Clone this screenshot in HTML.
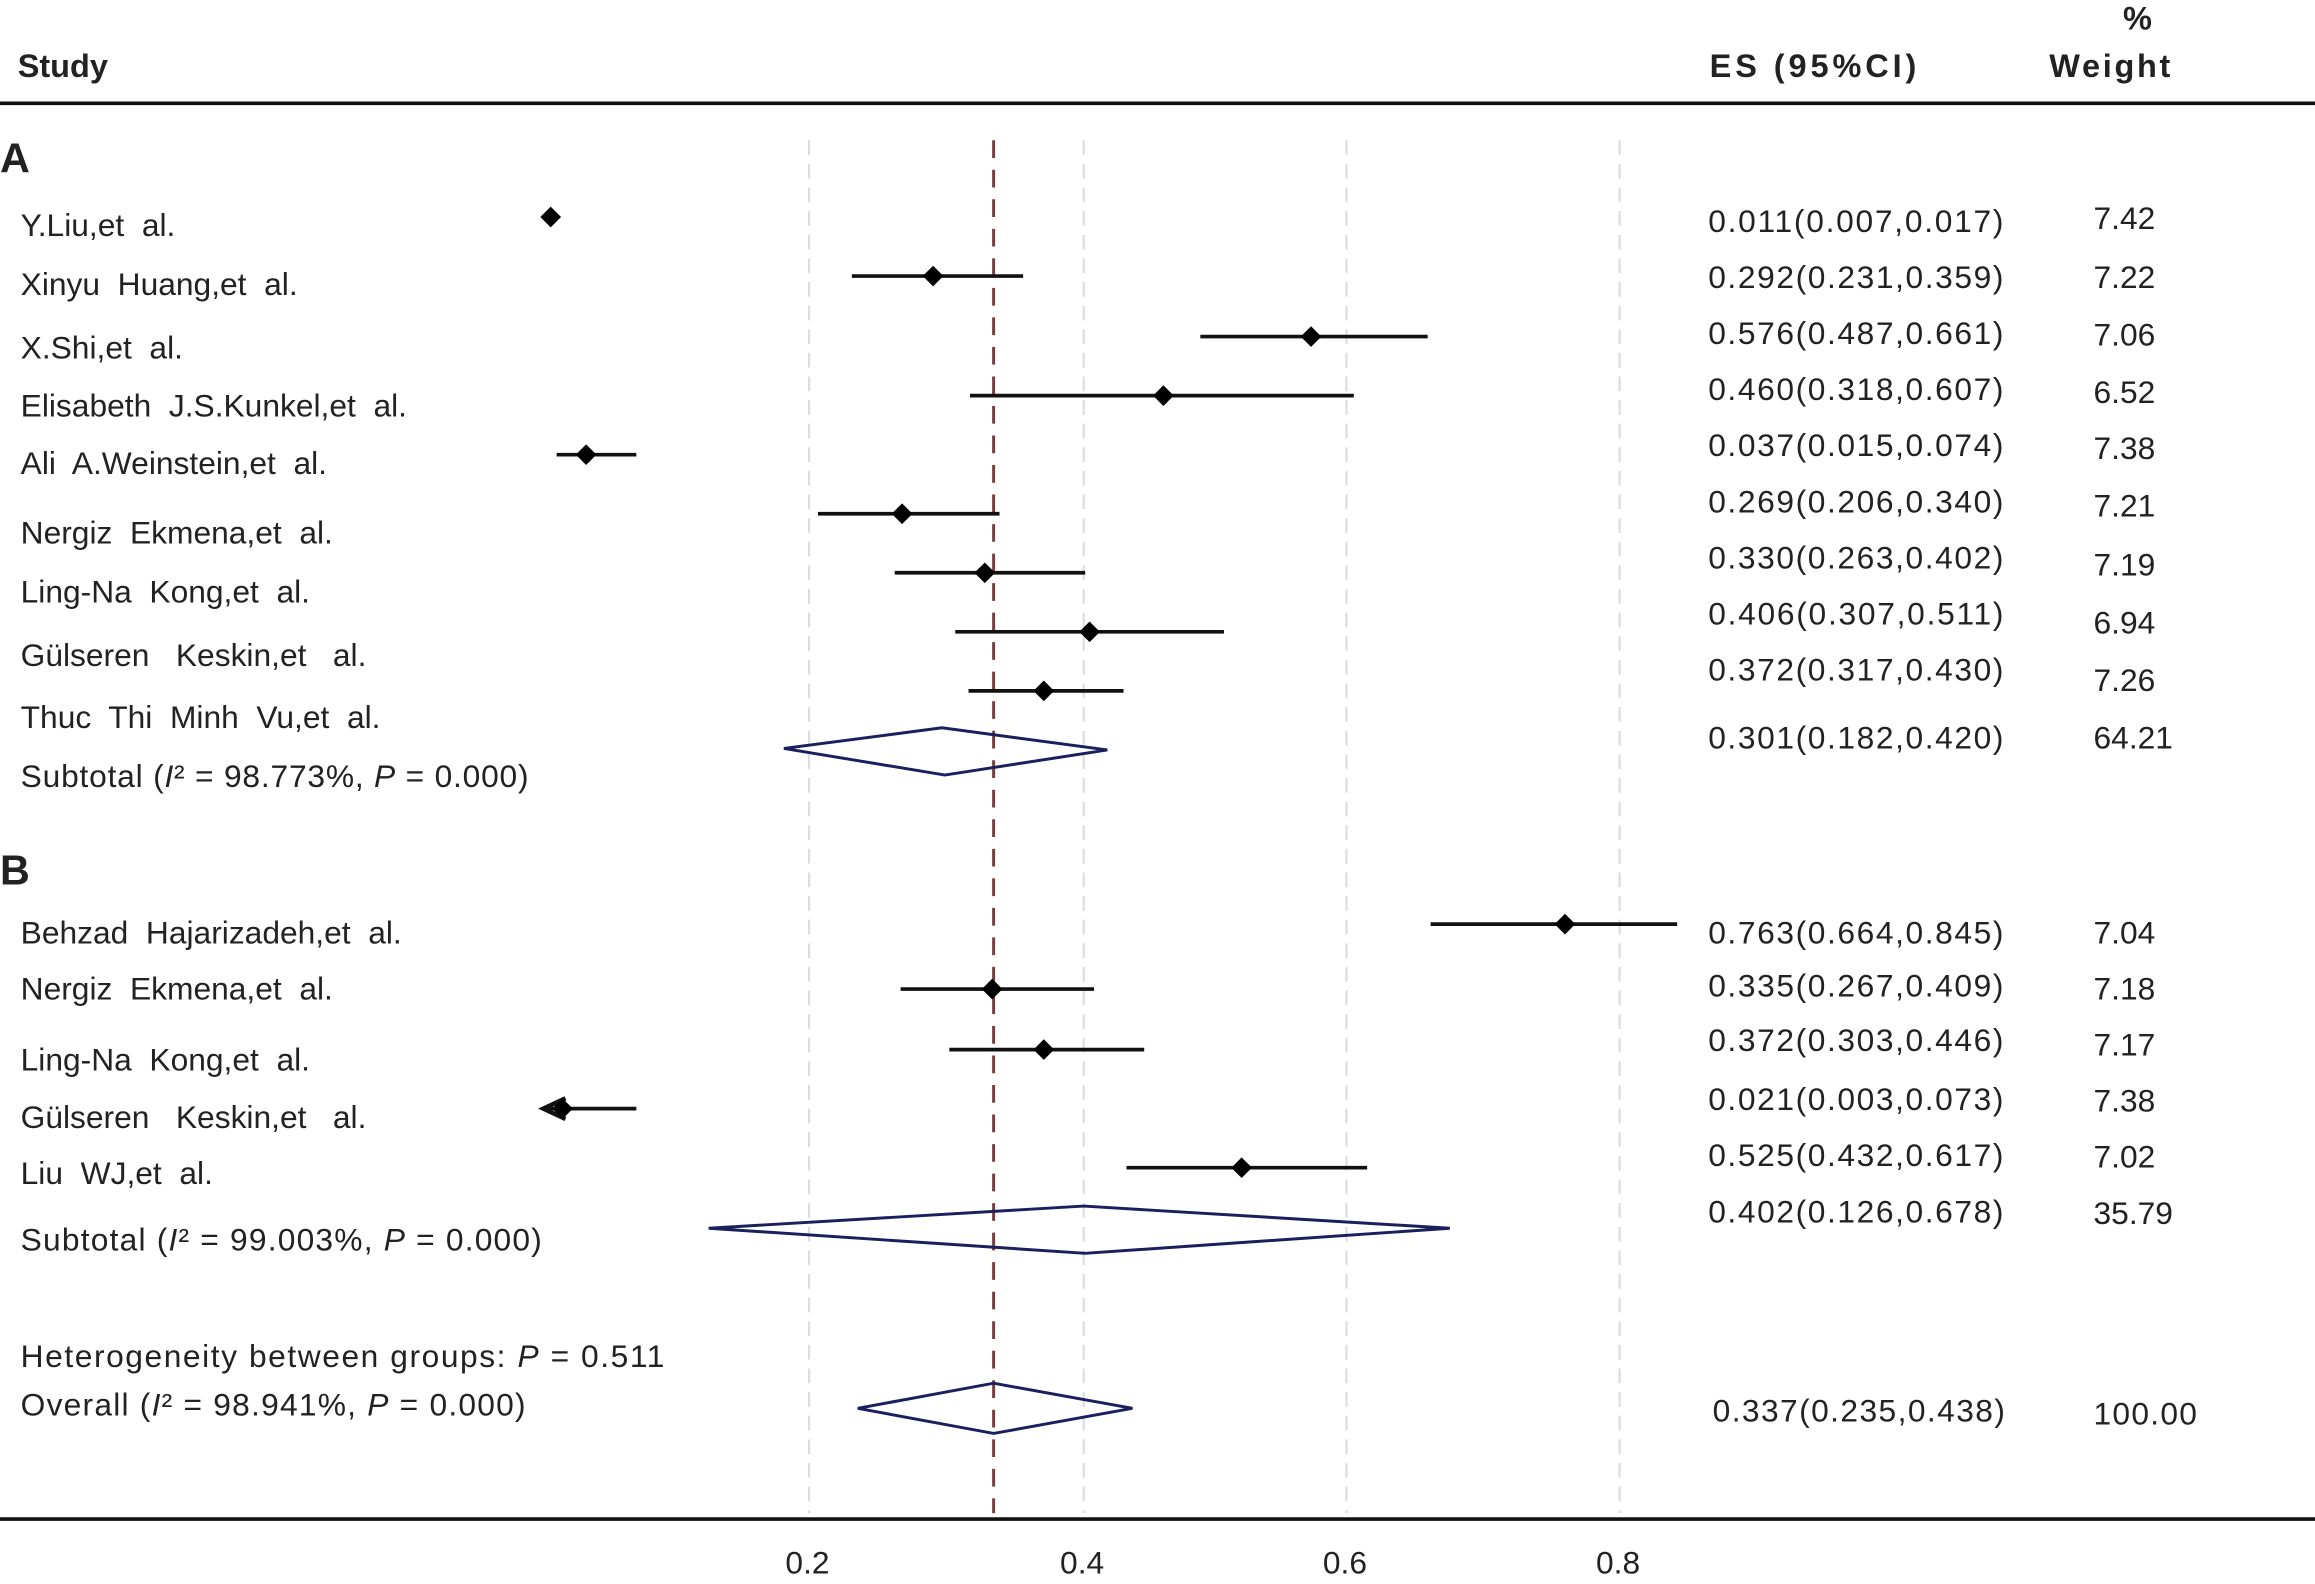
<!DOCTYPE html><html><head><style>body{margin:0;background:#fff}svg{display:block}text{font-family:"Liberation Sans",sans-serif;fill:#222;white-space:pre}</style></head><body>
<svg width="2315" height="1584" viewBox="0 0 1568 1073" preserveAspectRatio="none">
<g stroke="#ddd" stroke-width="1.5" stroke-dasharray="10,6"><line x1="548" y1="95" x2="548" y2="1025"/><line x1="734" y1="95" x2="734" y2="1025"/><line x1="912" y1="95" x2="912" y2="1025"/><line x1="1097" y1="95" x2="1097" y2="1025"/></g>
<line x1="673" y1="95" x2="673" y2="1025" stroke="#7a3b3b" stroke-width="2" stroke-dasharray="12,8"/>
<line x1="0" y1="70" x2="1568" y2="70" stroke="#111" stroke-width="2.5"/>
<line x1="0" y1="1029" x2="1568" y2="1029" stroke="#111" stroke-width="2.5"/>
<g font-weight="bold" font-size="22"><text x="12" y="52">Study</text><text x="1158" y="52" textLength="140">ES (95%CI)</text><text x="1438" y="20">%</text><text x="1388" y="52" textLength="82">Weight</text><text x="0" y="117" font-size="28">A</text><text x="0" y="599" font-size="28">B</text></g>
<g font-size="21.5">
<text x="14" y="160">Y.Liu,et  al.</text><text x="14" y="200">Xinyu  Huang,et  al.</text><text x="14" y="243">X.Shi,et  al.</text><text x="14" y="282">Elisabeth  J.S.Kunkel,et  al.</text><text x="14" y="321">Ali  A.Weinstein,et  al.</text><text x="14" y="368">Nergiz  Ekmena,et  al.</text><text x="14" y="408">Ling-Na  Kong,et  al.</text><text x="14" y="451">Gülseren   Keskin,et   al.</text><text x="14" y="493">Thuc  Thi  Minh  Vu,et  al.</text><text x="14" y="533" textLength="344">Subtotal (<tspan font-style="italic">I</tspan>² = 98.773%, <tspan font-style="italic">P</tspan> = 0.000)</text>
<text x="14" y="639">Behzad  Hajarizadeh,et  al.</text><text x="14" y="677">Nergiz  Ekmena,et  al.</text><text x="14" y="725">Ling-Na  Kong,et  al.</text><text x="14" y="764">Gülseren   Keskin,et   al.</text><text x="14" y="802">Liu  WJ,et  al.</text><text x="14" y="847" textLength="353">Subtotal (<tspan font-style="italic">I</tspan>² = 99.003%, <tspan font-style="italic">P</tspan> = 0.000)</text>
<text x="14" y="926" textLength="436">Heterogeneity between groups: <tspan font-style="italic">P</tspan> = 0.511</text><text x="14" y="959" textLength="342">Overall (<tspan font-style="italic">I</tspan>² = 98.941%, <tspan font-style="italic">P</tspan> = 0.000)</text>
</g>
<g font-size="21.5">
<text x="1157" y="157" textLength="200">0.011(0.007,0.017)</text><text x="1157" y="195" textLength="200">0.292(0.231,0.359)</text><text x="1157" y="233" textLength="200">0.576(0.487,0.661)</text><text x="1157" y="271" textLength="200">0.460(0.318,0.607)</text><text x="1157" y="309" textLength="200">0.037(0.015,0.074)</text><text x="1157" y="347" textLength="200">0.269(0.206,0.340)</text><text x="1157" y="385" textLength="200">0.330(0.263,0.402)</text><text x="1157" y="423" textLength="200">0.406(0.307,0.511)</text><text x="1157" y="461" textLength="200">0.372(0.317,0.430)</text><text x="1157" y="507" textLength="200">0.301(0.182,0.420)</text>
<text x="1157" y="639" textLength="200">0.763(0.664,0.845)</text><text x="1157" y="675" textLength="200">0.335(0.267,0.409)</text><text x="1157" y="712" textLength="200">0.372(0.303,0.446)</text><text x="1157" y="752" textLength="200">0.021(0.003,0.073)</text><text x="1157" y="790" textLength="200">0.525(0.432,0.617)</text><text x="1157" y="828" textLength="200">0.402(0.126,0.678)</text><text x="1160" y="963" textLength="198">0.337(0.235,0.438)</text>
<text x="1418" y="155">7.42</text><text x="1418" y="195">7.22</text><text x="1418" y="234">7.06</text><text x="1418" y="273">6.52</text><text x="1418" y="311">7.38</text><text x="1418" y="350">7.21</text><text x="1418" y="390">7.19</text><text x="1418" y="429">6.94</text><text x="1418" y="468">7.26</text><text x="1418" y="507">64.21</text>
<text x="1418" y="639">7.04</text><text x="1418" y="677">7.18</text><text x="1418" y="715">7.17</text><text x="1418" y="753">7.38</text><text x="1418" y="791">7.02</text><text x="1418" y="829">35.79</text><text x="1418" y="965" textLength="70">100.00</text>
<text x="532" y="1066">0.2</text><text x="718" y="1066">0.4</text><text x="896" y="1066">0.6</text><text x="1081" y="1066">0.8</text>
</g>
<g stroke="#111" stroke-width="2.5">
<line x1="577" y1="187" x2="693" y2="187"/><line x1="813" y1="228" x2="967" y2="228"/><line x1="657" y1="268" x2="917" y2="268"/><line x1="377" y1="308" x2="431" y2="308"/><line x1="554" y1="348" x2="677" y2="348"/><line x1="606" y1="388" x2="735" y2="388"/><line x1="647" y1="428" x2="829" y2="428"/><line x1="656" y1="468" x2="761" y2="468"/>
<line x1="969" y1="626" x2="1136" y2="626"/><line x1="610" y1="670" x2="741" y2="670"/><line x1="643" y1="711" x2="775" y2="711"/><line x1="368" y1="751" x2="431" y2="751"/><line x1="763" y1="791" x2="926" y2="791"/>
</g>
<path d="M383,744 L368,751 L383,758" fill="none" stroke="#111" stroke-width="3"/>
<g fill="#000">
<path d="M373,140l7,7l-7,7l-7,-7z"/><path d="M632,180l7,7l-7,7l-7,-7z"/><path d="M888,221l7,7l-7,7l-7,-7z"/><path d="M788,261l7,7l-7,7l-7,-7z"/><path d="M397,301l7,7l-7,7l-7,-7z"/><path d="M611,341l7,7l-7,7l-7,-7z"/><path d="M667,381l7,7l-7,7l-7,-7z"/><path d="M738,421l7,7l-7,7l-7,-7z"/><path d="M707,461l7,7l-7,7l-7,-7z"/>
<path d="M1060,619l7,7l-7,7l-7,-7z"/><path d="M672,663l7,7l-7,7l-7,-7z"/><path d="M707,704l7,7l-7,7l-7,-7z"/><path d="M381,744l7,7l-7,7l-7,-7z"/><path d="M841,784l7,7l-7,7l-7,-7z"/>
</g>
<g fill="none" stroke="#1a1f5e" stroke-width="2">
<path d="M531,507L638,493L750,508L640,525Z"/><path d="M480,832L734,817L982,832L735,849Z"/><path d="M581,954L673,937L767,954L673,971Z"/>
</g>
</svg></body></html>
